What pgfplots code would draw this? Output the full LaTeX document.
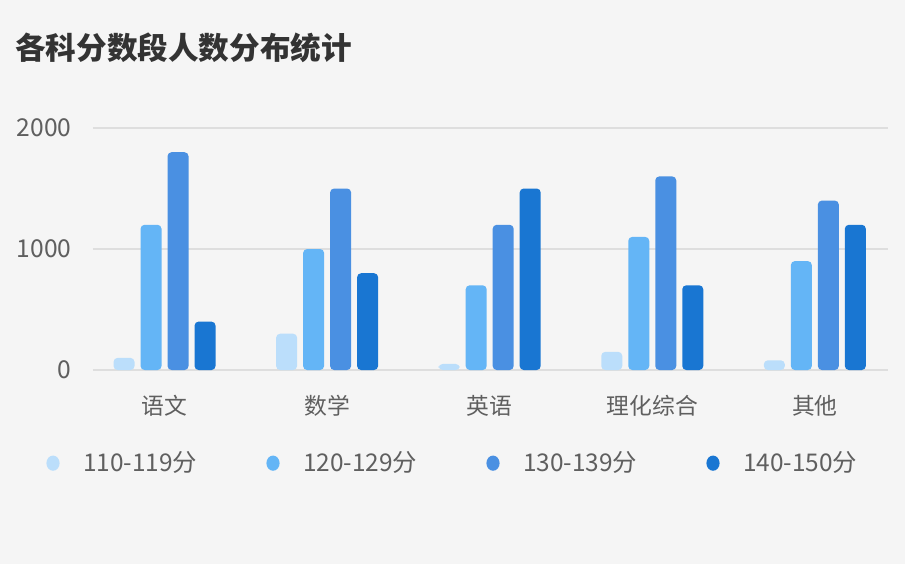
\documentclass[border=0pt]{standalone}
\usepackage{pgfplots}
\pgfplotsset{compat=1.18}
\usepackage{fontspec}
\setmainfont{Noto Sans CJK SC}
\definecolor{bg}{HTML}{F5F5F5}
\definecolor{gridc}{HTML}{DEDEDE}
\definecolor{titlec}{HTML}{333333}
\definecolor{tickc}{HTML}{5F5F5F}
\definecolor{cA}{HTML}{BBDEFB}
\definecolor{cB}{HTML}{64B5F6}
\definecolor{cC}{HTML}{4A90E2}
\definecolor{cD}{HTML}{1976D2}

\begin{document}
\begin{tikzpicture}
    \fill[bg] (0,0) rectangle (452.5pt,282pt);
    \path[use as bounding box] (0,0) rectangle (452.5pt,282pt);
    \node[anchor=west, inner sep=0pt, text=titlec,
          font=\fontsize{15.3}{17}\selectfont\bfseries] at (7.5pt,258pt) {各科分数段人数分布统计};
    \begin{axis}[
        at={(46.5pt,97pt)}, anchor=south west,
        scale only axis, width=397.5pt, height=121pt,
        xmin=-0.44, xmax=4.45,
        ymin=0, ymax=2000,
        ybar=3pt, bar width=10.5pt,
        axis line style={draw=none},
        major tick length=0pt,
        xtick={0,1,2,3,4},
        xticklabels={语文,数学,英语,理化综合,其他},
        ytick={0,1000,2000},
        ymajorgrids=true,
        grid style={gridc, line width=0.9pt},
        /pgf/number format/assume math mode=true,
        /pgf/number format/1000 sep={},
        tick label style={text=tickc},
        xticklabel style={anchor=center, yshift=-18pt, font=\fontsize{11.4}{13}\selectfont},
        yticklabel style={anchor=east, inner xsep=0pt, xshift=-10.5pt, font=\fontsize{12.3}{14}\selectfont},
        legend columns=4,
        legend style={at={(-0.0586,-0.385)}, anchor=west, draw=none, fill=none,
            inner sep=0pt, outer sep=0pt,
            nodes={text width=91.7pt, align=left, inner xsep=0pt, text=tickc,
                   font=\fontsize{12.2}{14}\selectfont},
            /tikz/every odd column/.append style={column sep=11.7pt}},
        clip=false,
    ]
        \addplot[fill=cA, draw=none, rounded corners=2pt,
            legend image code/.code={\fill[cA] (3.3pt,0pt) ellipse (3.3pt and 3.8pt);}]
            coordinates {(0,100) (1,300) (2,50) (3,150) (4,80)};
        \addplot[fill=cB, draw=none, rounded corners=2pt,
            legend image code/.code={\fill[cB] (3.3pt,0pt) ellipse (3.3pt and 3.8pt);}]
            coordinates {(0,1200) (1,1000) (2,700) (3,1100) (4,900)};
        \addplot[fill=cC, draw=none, rounded corners=2pt,
            legend image code/.code={\fill[cC] (3.3pt,0pt) ellipse (3.3pt and 3.8pt);}]
            coordinates {(0,1800) (1,1500) (2,1200) (3,1600) (4,1400)};
        \addplot[fill=cD, draw=none, rounded corners=2pt,
            legend image code/.code={\fill[cD] (3.3pt,0pt) ellipse (3.3pt and 3.8pt);}]
            coordinates {(0,400) (1,800) (2,1500) (3,700) (4,1200)};
        \legend{110-119分, 120-129分, 130-139分, 140-150分}
    \end{axis}
\end{tikzpicture}
\end{document}
